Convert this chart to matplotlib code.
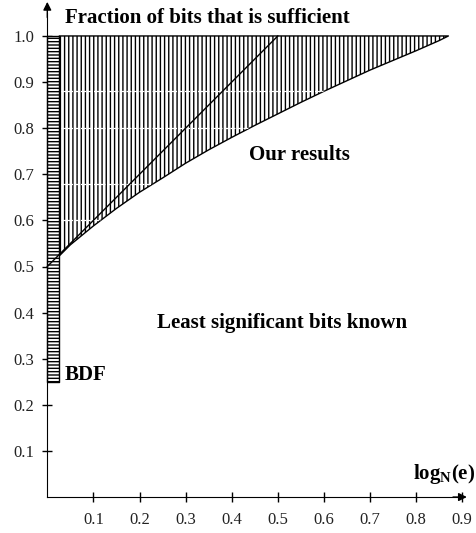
import matplotlib
matplotlib.use("Agg")
from matplotlib import pyplot as plt

plt.rcParams['font.family'] = ['Liberation Serif', 'DejaVu Serif']
plt.rcParams['mathtext.fontset'] = 'custom'
plt.rcParams['mathtext.rm'] = 'Liberation Serif'
plt.rcParams['mathtext.bf'] = 'Liberation Serif:bold'
plt.rcParams['hatch.linewidth'] = 1.0

# lower boundary of "Our results" region (log_N(e) -> fraction of bits)
alpha = [0.026, 0.05, 0.1, 0.15, 0.2, 0.25, 0.3, 0.35, 0.4, 0.45,
         0.5, 0.55, 0.6, 0.65, 0.7, 0.75, 0.8, 0.85, 0.87]
frac = [0.523, 0.547, 0.588, 0.626, 0.661, 0.692, 0.724, 0.753, 0.780, 0.806,
        0.831, 0.856, 0.880, 0.903, 0.926, 0.947, 0.968, 0.990, 1.0]

# straight line from (0, 0.5) to (0.5, 1)
line_x = [0.0, 0.5]
line_y = [0.5, 1.0]

# BDF bar
bdf_x = [0.0, 0.026]
bdf_low = 0.25
bdf_high = 1.0

# faint white breaks running through the hatching
gap_levels = [0.60, 0.68, 0.80, 0.88]

xticks = [0.1, 0.2, 0.3, 0.4, 0.5, 0.6, 0.7, 0.8, 0.9]
yticks = [0.1, 0.2, 0.3, 0.4, 0.5, 0.6, 0.7, 0.8, 0.9, 1.0]

fig = plt.figure(figsize=(4.77, 5.33), dpi=100)
ax = fig.add_axes([0, 0, 1, 1])
ax.set_xlim(-0.1026, 0.932)
ax.set_ylim(-0.078, 1.078)

# our results (vertical hatch)
ours = ax.fill_between(alpha, frac, [1.0] * len(alpha), facecolor='white',
                       edgecolor='black', hatch='||||', linewidth=1.0)
for lev in gap_levels:
    gl, = ax.plot([alpha[0] + 0.003, alpha[-1]], [lev, lev], color='white',
                  lw=0.9, ls=(0, (4, 1.2)), zorder=2.5)
    gl.set_clip_path(ours.get_paths()[0], ax.transData)

# BDF (horizontal hatch)
ax.fill_between(bdf_x, [bdf_low, bdf_low], [bdf_high, bdf_high], facecolor='white',
                edgecolor='black', hatch='-----', linewidth=1.0, zorder=3)

ax.plot(line_x, line_y, color='black', lw=1.0, zorder=4)

# axes through origin
for side in ['top', 'right']:
    ax.spines[side].set_visible(False)
ax.spines['left'].set_position(('data', 0))
ax.spines['bottom'].set_position(('data', 0))
ax.spines['left'].set_bounds(0, 1.05)
ax.spines['bottom'].set_bounds(0, 0.9)
ax.spines['left'].set_zorder(5)
ax.annotate('', xy=(0, 1.074), xytext=(0, 1.04),
            arrowprops=dict(arrowstyle='-|>', color='black', lw=1,
                            mutation_scale=12, shrinkA=0, shrinkB=0))
ax.annotate('', xy=(0.91, 0), xytext=(0.88, 0),
            arrowprops=dict(arrowstyle='-|>', color='black', lw=1,
                            mutation_scale=12, shrinkA=0, shrinkB=0))

ax.set_xticks(xticks)
ax.set_yticks(yticks)
ax.set_xticklabels(['{:.1f}'.format(v) for v in xticks])
ax.set_yticklabels(['{:.1f}'.format(v) for v in yticks])
ax.tick_params(direction='inout', length=7.2, width=1, labelsize=12,
               labelcolor='#222222')
ax.tick_params(axis='y', pad=6)
ax.tick_params(axis='x', pad=7)

ax.text(0.038, 1.039, 'Fraction of bits that is sufficient', fontsize=15,
        fontweight='bold', va='center', ha='left')
ax.text(0.437, 0.742, 'Our results', fontsize=15, fontweight='bold',
        va='center', ha='left')
ax.text(0.238, 0.377, 'Least significant bits known', fontsize=15,
        fontweight='bold', va='center', ha='left')
ax.text(0.038, 0.265, 'BDF', fontsize=15, fontweight='bold', va='center', ha='left')
ax.text(0.928, 0.05, r'$\mathbf{log}_{\mathbf{N}}\mathbf{(e)}$', fontsize=15,
        va='center', ha='right')

plt.savefig('out.png', dpi=100)
